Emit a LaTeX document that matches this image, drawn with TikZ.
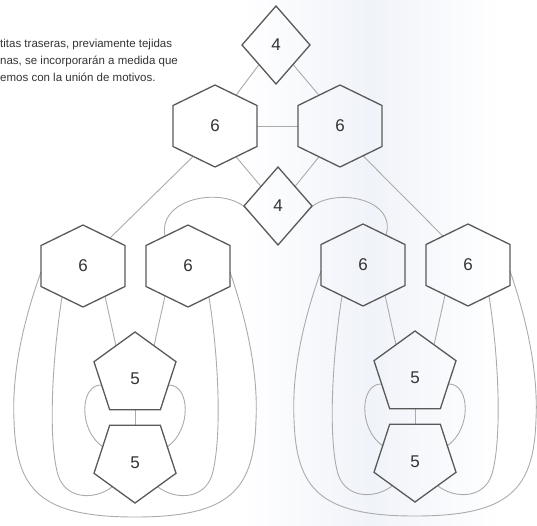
\documentclass[tikz,border=0pt]{standalone}
\usepackage{fontspec}
\setmainfont{Liberation Sans}
\usepackage{tikz}
\usetikzlibrary{calc}

\definecolor{edgegray}{HTML}{595959}
\definecolor{linkgray}{HTML}{ABABAB}
\definecolor{textgray}{HTML}{333333}
\definecolor{paleblue}{HTML}{F0F3F9}

% outlines drawn round a named coordinate
\newcommand{\hexa}[1]{\draw[shapeline] ($(#1)+(0,-41)$) -- ++(42,20.5) -- ++(0,41) -- ++(-42,20.5) -- ++(-42,-20.5) -- ++(0,-41) -- cycle;}
\newcommand{\rhomb}[1]{\draw[shapeline] ($(#1)+(0,-39)$) -- ++(34,39) -- ++(-34,39) -- ++(-34,-39) -- cycle;}
\newcommand{\pentup}[1]{\draw[shapeline] ($(#1)+(0,-43)$) -- ++(41,29.7) -- ++(-15.7,48.1) -- ++(-50.6,0) -- ++(-15.7,-48.1) -- cycle;}
\newcommand{\pentdown}[1]{\draw[shapeline] ($(#1)+(0,43)$) -- ++(41,-29.7) -- ++(-15.7,-48.1) -- ++(-50.6,0) -- ++(-15.7,48.1) -- cycle;}

\begin{document}
\begin{tikzpicture}[x=1pt,y=-1pt,
    shapeline/.style={edgegray,line width=1.3pt,line join=miter},
    link/.style={linkgray,line width=0.9pt},
    num/.style={text=textgray,font=\fontsize{17}{17}\selectfont}]
    \useasboundingbox (0,0) rectangle (537,525);
    \shade[left color=white,right color=white,middle color=paleblue,draw=none] (240,0) rectangle (500,525);

    % centres
    \coordinate (T) at (276,45);
    \coordinate (H1) at (215,126);
    \coordinate (H2) at (340,126);
    \coordinate (M) at (278,206);
    \coordinate (L1) at (83,266);
    \coordinate (L2) at (188,266);
    \coordinate (P1) at (135,375);
    \coordinate (P2) at (135,460);
    \coordinate (R1) at (363,265);
    \coordinate (R2) at (468,265);
    \coordinate (P3) at (415,374);
    \coordinate (P4) at (415,459);

    % text (cut at the left edge)
    \node[anchor=north west,align=left,inner sep=0pt,text=textgray,
          font=\fontsize{11.5}{17}\selectfont] (note) at (0,39)
        {titas traseras, previamente tejidas\\
         nas, se incorporarán a medida que\\
         emos con la unión de motivos.};

    % links of the upper part
    \draw[link] ($(T)+(-17,19.5)$) -- ($(H1)+(21,-30.75)$);
    \draw[link] ($(T)+(17,19.5)$) -- ($(H2)+(-21,-30.75)$);
    \draw[link] ($(H1)+(42,0)$) -- ($(H2)+(-42,0)$);
    \draw[link] ($(H1)+(21,30.75)$) -- ($(M)+(-17,-19.5)$);
    \draw[link] ($(H2)+(-21,30.75)$) -- ($(M)+(17,-19.5)$);
    \draw[link] ($(H1)+(-22,30.5)$) -- ($(L1)+(27,-28)$);
    \draw[link] ($(H2)+(23,29.8)$) -- ($(R2)+(-25,-28.8)$);
    \draw[link] ($(L2)+(-23,-29.8)$) .. controls +(-8,-41) and +(-18,-28) .. ($(M)+(-28,7)$);
    \draw[link] ($(M)+(27,8)$) .. controls +(18,-29) and +(12,-40) .. ($(R1)+(23,-29.8)$);

    % left motif
    \draw[link] ($(L1)+(-42,6)$) .. controls +(-21,58) and +(-2,-40) .. ++(-27,148)
        .. controls +(2,70) and +(-95,0) .. ++(121,97)
        .. controls +(95,0) and +(-2,70) .. ++(121,-97)
        .. controls +(2,-40) and +(20,58) .. ($(L2)+(42,6)$);
    \draw[link] ($(L1)+(-21,31)$) .. controls +(-10,63) and +(-10,-35) .. ++(-4,178)
        .. controls +(8,25) and +(-17,13) .. ($(P2)+(-23,27)$);
    \draw[link] ($(L2)+(21,31)$) .. controls +(10,63) and +(10,-35) .. ++(3,178)
        .. controls +(-8,25) and +(17,13) .. ($(P2)+(23,27)$);
    \draw[link] ($(L1)+(22,30)$) -- ($(P1)+(-19,-29)$);
    \draw[link] ($(L2)+(-23,30)$) -- ($(P1)+(19,-29)$);
    \draw[link] ($(P1)+(0,34.8)$) -- ($(P2)+(0,-34.8)$);
    \draw[link] ($(P1)+(-34,10)$) .. controls +(-21,0) and +(-25,-17) .. ($(P2)+(-32,-13)$);
    \draw[link] ($(P1)+(34,10)$) .. controls +(21,0) and +(25,-17) .. ($(P2)+(32,-13)$);

    % right motif
    \draw[link] ($(R1)+(-42,6)$) .. controls +(-21,58) and +(-2,-40) .. ++(-27,148)
        .. controls +(2,70) and +(-95,0) .. ++(121,97)
        .. controls +(95,0) and +(-2,70) .. ++(121,-97)
        .. controls +(2,-40) and +(20,58) .. ($(R2)+(42,6)$);
    \draw[link] ($(R1)+(-21,31)$) .. controls +(-10,63) and +(-10,-35) .. ++(-4,178)
        .. controls +(8,25) and +(-17,13) .. ($(P4)+(-23,27)$);
    \draw[link] ($(R2)+(21,31)$) .. controls +(10,63) and +(10,-35) .. ++(3,178)
        .. controls +(-8,25) and +(17,13) .. ($(P4)+(23,27)$);
    \draw[link] ($(R1)+(22,30)$) -- ($(P3)+(-19,-29)$);
    \draw[link] ($(R2)+(-23,30)$) -- ($(P3)+(19,-29)$);
    \draw[link] ($(P3)+(0,34.8)$) -- ($(P4)+(0,-34.8)$);
    \draw[link] ($(P3)+(-34,10)$) .. controls +(-21,0) and +(-25,-17) .. ($(P4)+(-32,-13)$);
    \draw[link] ($(P3)+(34,10)$) .. controls +(21,0) and +(25,-17) .. ($(P4)+(32,-13)$);

    % outlines
    \rhomb{T} \rhomb{M}
    \hexa{H1} \hexa{H2}
    \hexa{L1} \hexa{L2} \hexa{R1} \hexa{R2}
    \pentup{P1} \pentdown{P2} \pentup{P3} \pentdown{P4}

    \node[num] (t) at (T) {4};
    \node[num] (m) at (M) {4};
    \node[num] (h1) at (H1) {6};
    \node[num] (h2) at (H2) {6};
    \node[num] (l1) at (L1) {6};
    \node[num] (l2) at (L2) {6};
    \node[num] (r1) at (R1) {6};
    \node[num] (r2) at (R2) {6};
    \node[num] (p1) at ($(P1)+(0,4)$) {5};
    \node[num] (p2) at ($(P2)+(0,3)$) {5};
    \node[num] (p3) at ($(P3)+(0,4)$) {5};
    \node[num] (p4) at ($(P4)+(0,3)$) {5};
\end{tikzpicture}
\end{document}
